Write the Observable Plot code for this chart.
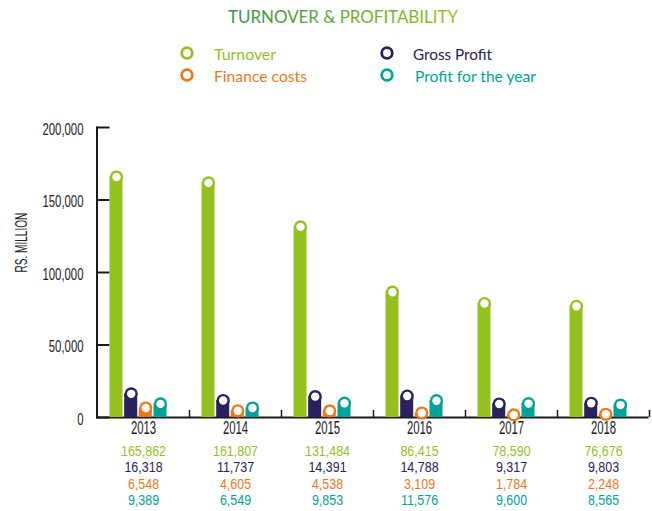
<!DOCTYPE html>
<html>
<head>
<meta charset="utf-8">
<script src="https://cdn.jsdelivr.net/npm/d3@7"></script>
<script src="https://cdn.jsdelivr.net/npm/@observablehq/plot@0.6"></script>
<style>
  body { margin: 0; background: #fff; width: 652px; height: 511px; overflow: hidden; }
  #head svg, #chart svg { display: block; }
</style>
</head>
<body>
<div id="head"></div>
<div id="chart"></div>
<script>
// ---- data ----
const titleText = "TURNOVER & PROFITABILITY";
const yAxisTitle = "RS. MILLION";
const years = ["2013", "2014", "2015", "2016", "2017", "2018"];
const turnover = [165862, 161807, 131484, 86415, 78590, 76676];
const grossProfit = [16318, 11737, 14391, 14788, 9317, 9803];
const financeCosts = [6548, 4605, 4538, 3109, 1784, 2248];
const profitForYear = [9389, 6549, 9853, 11576, 9600, 8565];
const seriesNames = ["Turnover", "Gross Profit", "Finance costs", "Profit for the year"];
const seriesColors = ["#95c11f", "#29225e", "#f07819", "#00a39a"];
const yTicks = [0, 50000, 100000, 150000, 200000];

const seriesValues = [turnover, grossProfit, financeCosts, profitForYear];

// ---- header: title + legend ----
const numFont = "'Liberation Sans', Arial, sans-serif";
const headFont = "Lato, 'Open Sans', sans-serif";
const head = d3.select("#head").append("svg").attr("width", 652).attr("height", 110);
const grad = head.append("defs").append("linearGradient").attr("id", "tg").attr("x1", "0").attr("x2", "1");
grad.append("stop").attr("offset", "0").attr("stop-color", "#379448");
grad.append("stop").attr("offset", "1").attr("stop-color", "#95c11f");
head.append("text")
  .attr("x", 228).attr("y", 23)
  .attr("fill", "url(#tg)")
  .attr("font-family", headFont).attr("font-size", 17.5)
  .attr("textLength", 230).attr("lengthAdjust", "spacingAndGlyphs")
  .text(titleText);

const legendPos = [[0, 0], [1, 0], [0, 1], [1, 1]]; // [col,row] per series
const legendWidths = [62, 79, 93, 121];
seriesNames.forEach((name, i) => {
  const [c, r] = legendPos[i];
  const cx = [187, 387][c], cy = [53, 75][r];
  head.append("circle").attr("cx", cx).attr("cy", cy).attr("r", 5.3)
    .attr("fill", "#fff").attr("stroke", seriesColors[i]).attr("stroke-width", 2.8);
  head.append("text")
    .attr("x", [214, 413][c] + (i === 3 ? 2 : 0)).attr("y", [59.5, 81.5][r])
    .attr("fill", seriesColors[i])
    .attr("font-family", headFont).attr("font-size", 15)
    .attr("textLength", legendWidths[i]).attr("lengthAdjust", "spacingAndGlyphs")
    .text(name);
});

// ---- chart ----
// horizontally condense text (the reference uses a condensed face)
const squeeze = k => (index, scales, values, dims, context, next) => {
  const g = next(index, scales, values, dims, context);
  d3.select(g).selectAll("text").each(function () {
    const t = this.getAttribute("transform");
    if (t) this.setAttribute("transform", t + ` scale(${k},1)`);
    else {
      const x = +this.getAttribute("x") || 0, y = +this.getAttribute("y") || 0;
      this.removeAttribute("x"); this.removeAttribute("y");
      this.setAttribute("transform", `translate(${x},${y}) scale(${k},1)`);
    }
  });
  return g;
};

const long = [];
seriesNames.forEach((s, i) => years.forEach((y, j) => long.push({year: y, series: s, value: seriesValues[i][j], idx: i})));

const bandW = 92;
const barCenters = [19, 33.7, 48.3, 63];
const barW = 13;

const marks = [
  Plot.ruleY([0], {stroke: "#1a1a1a", strokeWidth: 2}),
  Plot.frame({anchor: "left", stroke: "#1a1a1a", strokeWidth: 2}),
  Plot.tickY(yTicks, {y: d => d, stroke: "#1a1a1a", strokeWidth: 2, insetRight: 552 - 13}),
  Plot.tickX(years, {x: d => d, stroke: "#1a1a1a", strokeWidth: 1.5, dx: bandW / 2, insetTop: 290 - 7}),
  Plot.text(yTicks, {y: d => d, text: d => d3.format(",")(d), frameAnchor: "left", textAnchor: "end", dx: -13.5, dy: 2, fontSize: 16, fill: "#222", fontFamily: numFont, render: squeeze(0.71)}),
  Plot.text([yAxisTitle], {text: d => d, frameAnchor: "left", dx: -75.5, rotate: -90, fontSize: 16, fill: "#222", fontFamily: numFont, render: squeeze(0.63)})
];

seriesNames.forEach((s, i) => {
  const d = long.filter(r => r.idx === i);
  const c = barCenters[i];
  marks.push(
    Plot.barY(d, {x: "year", y: "value", fill: seriesColors[i], insetLeft: c - barW / 2, insetRight: bandW - c - barW / 2}),
    Plot.dot(d, {x: "year", y: "value", r: 6.6, fill: seriesColors[i], dx: c - bandW / 2}),
    Plot.dot(d, {x: "year", y: "value", r: 4.2, fill: "#fff", dx: c - bandW / 2})
  );
});

// year labels
marks.push(Plot.text(years, {x: d => d, text: d => d, frameAnchor: "bottom", dy: 16.5, fontSize: 18, fill: "#1a1a1a", fontFamily: numFont, render: squeeze(0.63)}));
// value rows
const rowDy = [38, 54.5, 71, 87.5];
seriesNames.forEach((s, i) => {
  marks.push(Plot.text(years, {
    x: d => d,
    text: (d, j) => d3.format(",")(seriesValues[i][j]),
    frameAnchor: "bottom", dy: rowDy[i], fontSize: 14.5, fill: seriesColors[i], fontFamily: numFont,
    render: squeeze(0.86)
  }));
});

const chart = Plot.plot({
  width: 652,
  height: 401,
  marginTop: 17,
  marginBottom: 94,
  marginLeft: 96.5,
  marginRight: 3.5,
  style: {overflow: "visible", fontFamily: numFont, background: "transparent"},
  x: {type: "band", domain: years, padding: 0, axis: null},
  y: {domain: [0, 200000], axis: null},
  marks
});
document.getElementById("chart").appendChild(chart);
</script>
</body>
</html>
